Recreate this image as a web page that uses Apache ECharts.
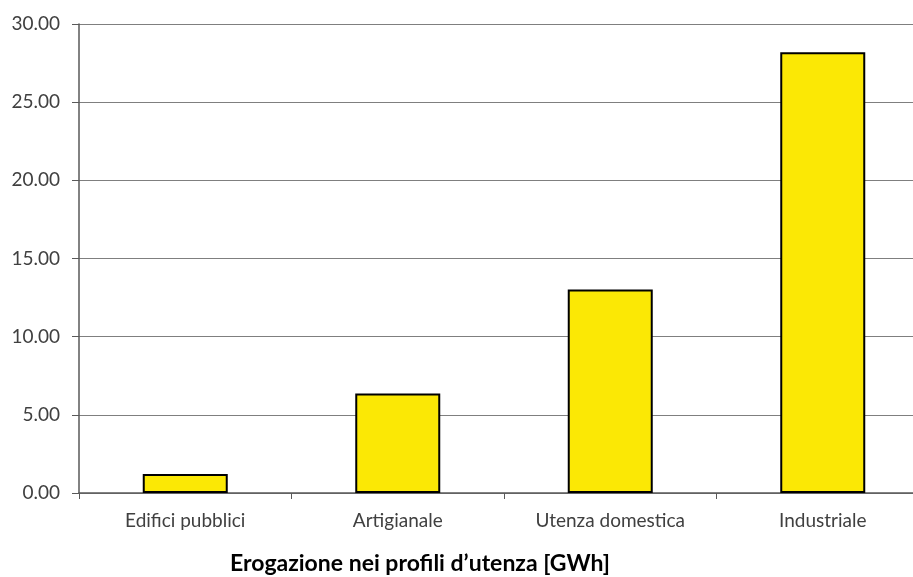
<!DOCTYPE html>
<html><head><meta charset="utf-8">
<script src="https://cdn.jsdelivr.net/npm/echarts@6/dist/echarts.min.js"></script>
<style>html,body{margin:0;padding:0;background:#fff;overflow:hidden;width:913px;height:577px}#c{width:931px;height:577px}</style>
</head><body><div id="c"></div>
<script>
const categories = ['Edifici pubblici', 'Artigianale', 'Utenza domestica', 'Industriale'];
const values = [1.22, 6.36, 13.01, 28.2];
const yTicks = {min: 0, max: 30, interval: 5};
const titleText = 'Erogazione nei profili d\u2019utenza [GWh]';

const chart = echarts.init(document.getElementById('c'), null, {renderer: 'canvas'});
chart.setOption({
  animation: false,
  backgroundColor: '#fff',
  title: {
    text: titleText,
    left: 415, top: 547, textAlign: 'center',
    textStyle: {fontFamily: 'Lato', fontWeight: 'bold', fontSize: 23, color: '#000'}
  },
  grid: {left: 79, top: 24, width: 850, height: 469, containLabel: false},
  xAxis: {
    type: 'category', data: categories,
    axisLine: {lineStyle: {color: '#595959', width: 1.5}},
    axisTick: {show: true, length: 6, inside: false, alignWithLabel: false, lineStyle: {color: '#595959'}},
    axisLabel: {fontFamily: 'Lato', fontSize: 19, color: '#404040', margin: 18}
  },
  yAxis: {
    type: 'value', min: yTicks.min, max: yTicks.max, interval: yTicks.interval,
    axisLine: {show: true, lineStyle: {color: '#595959', width: 1.5}},
    axisTick: {show: true, length: 7, lineStyle: {color: '#595959'}},
    axisLabel: {fontFamily: 'Lato', fontSize: 19, color: '#404040', margin: 19,
      formatter: v => v.toFixed(2)},
    splitLine: {show: true, lineStyle: {color: '#7f7f7f', width: 1.2}}
  },
  series: [{
    type: 'bar', data: values, barWidth: '40%',
    itemStyle: {color: '#FBE805', borderColor: '#000', borderWidth: 2}
  }]
});
</script></body></html>
